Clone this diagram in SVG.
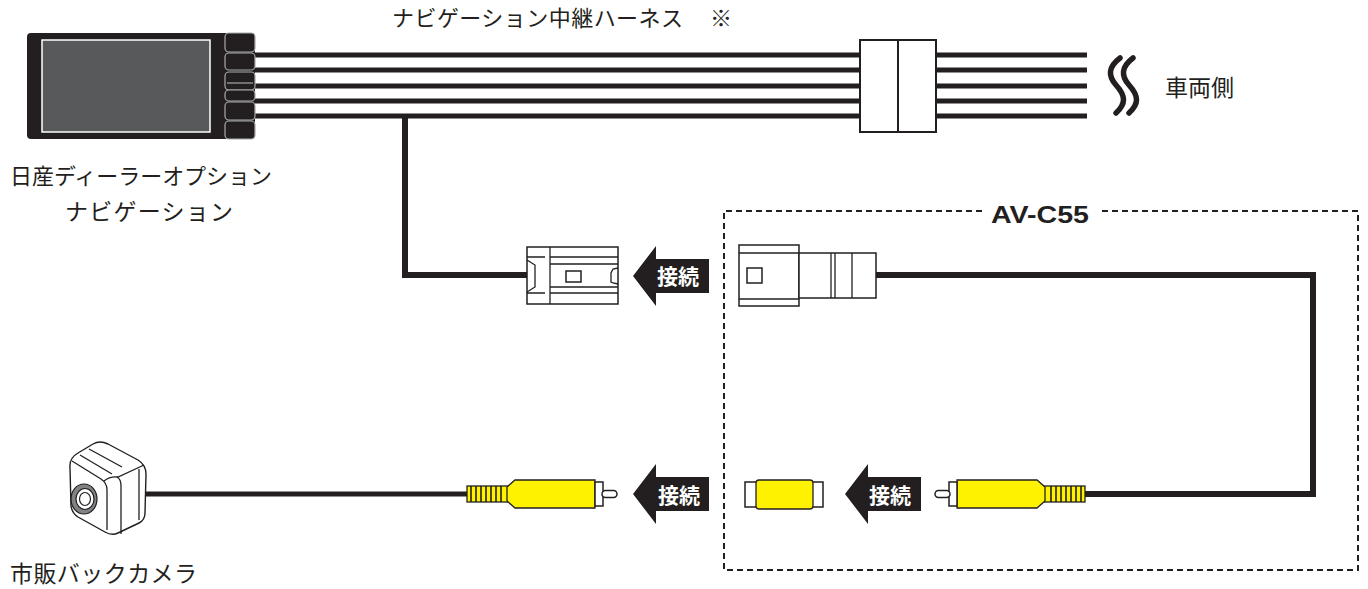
<svg xmlns="http://www.w3.org/2000/svg" xmlns:xlink="http://www.w3.org/1999/xlink" width="1368" height="589" viewBox="0 0 1368 589">
<style>
.txt{font-family:"Noto Sans CJK JP","Liberation Sans",sans-serif;fill:#231f20;}
.wire{fill:none;stroke:#231f20;stroke-width:5;}
.wire6{fill:none;stroke:#231f20;stroke-width:6;}
.ln{fill:none;stroke:#231f20;stroke-width:1.3;}
.box{fill:#fff;stroke:#231f20;stroke-width:1.5;}
.btn{fill:#231f20;stroke:#a7a9ac;stroke-width:1.2;}
.yel{fill:#fff200;stroke:#231f20;stroke-width:1.3;}
.arr{fill:#231f20;}
.atxt{font-family:"Noto Sans CJK JP","Liberation Sans",sans-serif;font-weight:bold;font-size:21px;fill:#fff;}
</style>
<defs>
<path id="arrow" d="M0,0 L23,-30 L23,-17 L76,-17 L76,17 L23,17 L23,30 Z"/>
<g id="plug">
<rect x="-150" y="-8" width="41" height="16" class="yel"/>
<g stroke="#231f20" stroke-width="1.6">
<line x1="-146" y1="-8" x2="-146" y2="8"/><line x1="-141" y1="-8" x2="-141" y2="8"/><line x1="-136" y1="-8" x2="-136" y2="8"/><line x1="-131" y1="-8" x2="-131" y2="8"/><line x1="-126" y1="-8" x2="-126" y2="8"/><line x1="-121" y1="-8" x2="-121" y2="8"/><line x1="-116" y1="-8" x2="-116" y2="8"/>
</g>
<path d="M-110,-7 L-102,-14 L-22,-14 L-22,14 L-102,14 L-110,7 Z" class="yel"/>
<rect x="-22" y="-12" width="8" height="24" class="box"/>
<rect x="-15" y="-3.5" width="15" height="7" rx="3.5" class="box"/>
</g>
</defs>

<g id="connectors">
<path class="wire" d="M255,55 H860 M255,70 H860 M255,86 H860 M255,101 H860 M255,116 H860"/>
<path class="wire" d="M936,55 H1087 M936,70 H1087 M936,86 H1087 M936,101 H1087 M936,116 H1087"/>
<path class="wire6" d="M405,116 V275 H527"/>
<path class="wire6" d="M876,275 H1313 V494 H1080"/>
<path class="wire" d="M146,494 H470"/>
<path fill="none" stroke="#231f20" stroke-width="5.5" stroke-linecap="round" d="M1120,58 C1108,67 1108,76 1116,85 C1126,96 1126,104 1116,113"/>
<path fill="none" stroke="#231f20" stroke-width="5.5" stroke-linecap="round" d="M1133,58 C1121,67 1121,76 1129,85 C1139,96 1139,104 1129,113"/>
</g>

<g id="harness-title">
<text class="txt" x="392" y="26" font-size="22" textLength="291" lengthAdjust="spacing">ナビゲーション中継ハーネス</text>
<text class="txt" x="710" y="26" font-size="22">※</text>
</g>

<g id="navi">
<rect x="27" y="33" width="228" height="106" rx="4" fill="#231f20"/>
<rect x="42" y="40" width="168" height="92" fill="#58595b" stroke="#fff" stroke-width="1.5"/>
<rect class="btn" x="225" y="33" width="30" height="19" rx="4"/>
<rect class="btn" x="225" y="53" width="30" height="17" rx="4"/>
<rect class="btn" x="225" y="72" width="30" height="18" rx="4"/>
<line x1="227" y1="83" x2="253" y2="83" stroke="#a7a9ac" stroke-width="1.2"/>
<rect class="btn" x="225" y="90" width="30" height="11" rx="4"/>
<rect class="btn" x="225" y="102" width="30" height="18" rx="4"/>
<rect class="btn" x="225" y="121" width="30" height="18" rx="4"/>
<text class="txt" x="10" y="184" font-size="22" textLength="262" lengthAdjust="spacing">日産ディーラーオプション</text>
<text class="txt" x="65" y="220" font-size="23" textLength="168" lengthAdjust="spacing">ナビゲーション</text>
</g>

<g id="relay-connector">
<rect x="860" y="40" width="76" height="92" fill="#fff" stroke="#231f20" stroke-width="2"/>
<line x1="898" y1="40" x2="898" y2="132" stroke="#231f20" stroke-width="2"/>
</g>

<g id="vehicle-side">
<text class="txt" x="1165" y="96" font-size="23">車両側</text>
</g>

<g id="navi-connector">
<rect x="527" y="247" width="91" height="57" class="box"/>
<line class="ln" x1="550" y1="247" x2="550" y2="304"/>
<path class="ln" d="M527,257 H545 M527,293 H545 M527,260 L535,265 V287 L527,292"/>
<path class="ln" d="M550,257 H618 M550,264 H618 M550,287 H618 M550,293 H618"/>
<path class="ln" d="M618,268 L613,269 L611,273 V282 L613,283 L618,284"/>
<rect x="566" y="271" width="15" height="11" class="box"/>
</g>

<g id="arrow1">
<use xlink:href="#arrow" href="#arrow" x="633" y="276" class="arr"/>
<text class="atxt" x="657" y="284">接続</text>
</g>

<g id="av-c55">
<path fill="none" stroke="#231f20" stroke-width="2" stroke-dasharray="6 4" d="M982,211 H724 V570 H1358 V211 H1101"/>
<text x="991" y="223" font-family="Liberation Sans, Arial, sans-serif" font-weight="bold" font-size="24" fill="#231f20" textLength="98" lengthAdjust="spacingAndGlyphs">AV-C55</text>
</g>

<g id="av-connector">
<rect x="739" y="245" width="60" height="61" class="box"/>
<path class="ln" d="M739,253 H799 M739,299 H799"/>
<rect x="747" y="268" width="15" height="15" class="box"/>
<rect x="799" y="253" width="77" height="45" class="box"/>
<path class="ln" d="M831,253 V298 M835,253 V298 M852,253 V298"/>
</g>

<g id="camera">
<path d="M70,468 Q69,458 78,453 L93,444 Q100,440 108,444 L138,460 Q146,465 146,474 L145,513 Q145,520 139,523 L118,533 Q112,536 105,532 L78,517 Q72,513 71,506 Z" fill="#fff" stroke="#231f20" stroke-width="1.4"/>
<path class="ln" d="M72,461 L101,479 Q107,483 107,490 V530"/>
<path class="ln" d="M104,481 Q110,476 118,477 L144,465"/>
<path class="ln" d="M117,477 Q121,479 121,486 V534"/>
<path class="ln" d="M80,455 L112,474"/>
<path class="ln" d="M89,449 L122,467"/>
<path class="ln" d="M139,469 V520"/>
<ellipse cx="84" cy="499" rx="13" ry="15" fill="#808285" stroke="#231f20" stroke-width="1.2"/>
<ellipse cx="85" cy="499" rx="9" ry="10.5" fill="#fff" stroke="#231f20" stroke-width="1.2"/>
<ellipse cx="85" cy="499" rx="5.5" ry="6.5" fill="#fff" stroke="#231f20" stroke-width="1.2"/>
<text class="txt" x="10" y="582" font-size="23" textLength="187" lengthAdjust="spacing">市販バックカメラ</text>
</g>

<g id="camera-plug">
<use xlink:href="#plug" href="#plug" transform="translate(617,494)"/>
</g>

<g id="arrow2">
<use xlink:href="#arrow" href="#arrow" x="633" y="494" class="arr"/>
<text class="atxt" x="658" y="503">接続</text>
</g>

<g id="coupler">
<rect x="745" y="482" width="78" height="25" class="box"/>
<rect x="756" y="480" width="57" height="29" rx="3" class="yel"/>
</g>

<g id="arrow3">
<use xlink:href="#arrow" href="#arrow" x="845" y="494" class="arr"/>
<text class="atxt" x="869" y="503">接続</text>
</g>

<g id="av-plug">
<use xlink:href="#plug" href="#plug" transform="translate(935,494) scale(-1,1)"/>
</g>
</svg>
